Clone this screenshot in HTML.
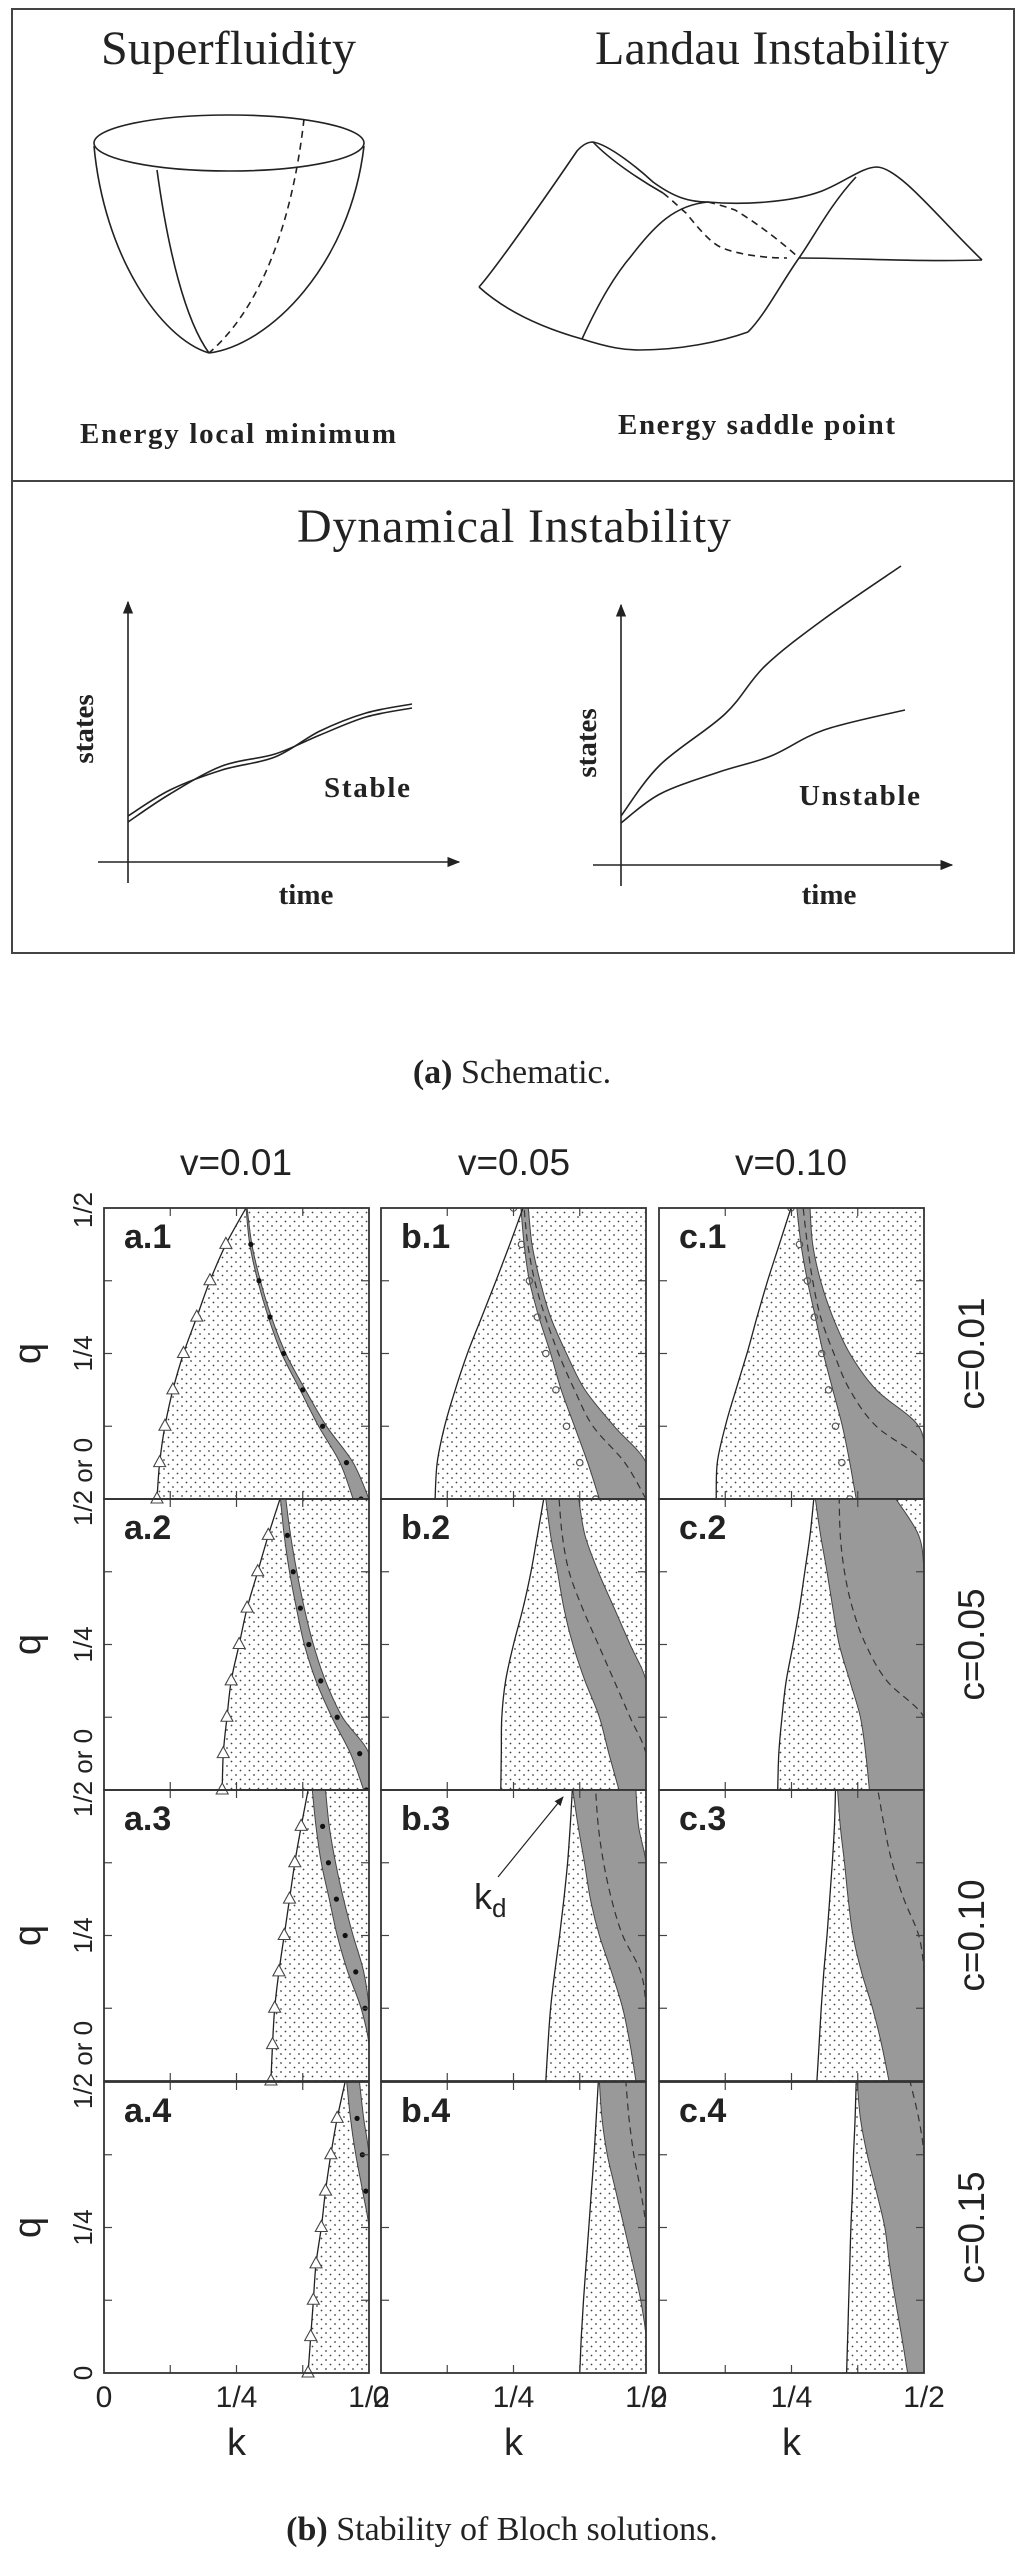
<!DOCTYPE html>
<html><head><meta charset="utf-8"><style>
html,body{margin:0;padding:0;background:#fff;}
svg{display:block;}
.serif{font-family:"Liberation Serif",serif;}
.sans{font-family:"Liberation Sans",sans-serif;}
</style></head><body>
<svg id="fig" width="1024" height="2561" viewBox="0 0 1024 2561" xmlns="http://www.w3.org/2000/svg">
<defs>
<pattern id="dots" width="9" height="9" patternUnits="userSpaceOnUse">
<circle cx="2" cy="2" r="0.9" fill="#444"/><circle cx="6.5" cy="6.5" r="0.9" fill="#444"/>
</pattern>
<marker id="arr" viewBox="0 0 10 10" refX="9" refY="5" markerWidth="8" markerHeight="8" orient="auto"><path d="M0,1 L10,5 L0,9 z" fill="#222"/></marker>
</defs>

<g>
<rect x="12" y="9" width="1002" height="944" fill="none" stroke="#444" stroke-width="2"/>
<line x1="12" y1="481" x2="1014" y2="481" stroke="#444" stroke-width="2"/>
<text class="serif" x="101" y="64" font-size="48" textLength="255" fill="#222">Superfluidity</text>
<text class="serif" x="595" y="64" font-size="48" textLength="354" fill="#222">Landau Instability</text>

<g fill="none" stroke="#222" stroke-width="1.6">
<ellipse cx="229" cy="143" rx="135" ry="28"/>
<path d="M94,146 C104,255 160,338 209,353"/>
<path d="M364,146 C350,265 270,345 209,353"/>
<path d="M157,170 C168,250 185,320 209,353"/>
<path d="M304,119 C295,200 270,300 209,353" stroke-dasharray="7,5"/>
</g>
<g fill="none" stroke="#222" stroke-width="1.6">
<path d="M479,287 C490,275 530,220 577,151 Q585,142 593,142 C610,145 640,170 653,182 C675,198 690,202 708,202 C740,205 790,203 822,191 C845,182 862,167 877,167 C900,168 940,220 982,260"/>
<path d="M982,260 C920,262 850,258 799,258"/>
<path d="M856,177 C830,205 815,235 799,258 C780,285 765,315 748,332"/>
<path d="M479,287 C510,315 550,330 582,339 C610,348 625,350 639,350 C680,350 720,342 748,332"/>
<path d="M582,339 C600,300 615,275 632,255 C655,225 675,205 708,202"/>
<path d="M593,142 C610,160 640,180 663,193"/>
<path d="M663,193 C672,200 680,208 686,213 C700,230 712,245 725,249 C745,256 770,258 787,258" stroke-dasharray="7,5"/>
<path d="M708,202 C720,205 730,208 735,210 C760,225 785,245 799,258" stroke-dasharray="7,5"/>
</g>
<text class="serif" x="80" y="443" font-size="29" font-weight="bold" textLength="316" fill="#222">Energy local minimum</text>
<text class="serif" x="618" y="434" font-size="29" font-weight="bold" textLength="277" fill="#222">Energy saddle point</text>
<text class="serif" x="297" y="542" font-size="48" textLength="434" fill="#222">Dynamical  Instability</text>

<g stroke="#222" stroke-width="1.6" fill="none">
<line x1="128" y1="883" x2="128" y2="602" marker-end="url(#arr)"/>
<line x1="98" y1="862" x2="459" y2="862" marker-end="url(#arr)"/>
<path id="stable1"/>
<path id="stable2"/>
</g>
<text class="serif" font-size="29" font-weight="bold" transform="translate(93,729) rotate(-90)" text-anchor="middle" fill="#222">states</text>
<text class="serif" x="324" y="797" font-size="29" font-weight="bold" textLength="86" fill="#222">Stable</text>
<text class="serif" x="306" y="904" font-size="29" font-weight="bold" text-anchor="middle" fill="#222">time</text>

<g stroke="#222" stroke-width="1.6" fill="none">
<line x1="621" y1="886" x2="621" y2="605" marker-end="url(#arr)"/>
<line x1="593" y1="865" x2="952" y2="865" marker-end="url(#arr)"/>
<path id="unst1"/>
<path id="unst2"/>
</g>
<text class="serif" font-size="29" font-weight="bold" transform="translate(596,743) rotate(-90)" text-anchor="middle" fill="#222">states</text>
<text class="serif" x="799" y="805" font-size="29" font-weight="bold" textLength="121" fill="#222">Unstable</text>
<text class="serif" x="829" y="904" font-size="29" font-weight="bold" text-anchor="middle" fill="#222">time</text>
</g>
<text class="serif" x="512" y="1083" font-size="34" text-anchor="middle" fill="#222"><tspan font-weight="bold">(a)</tspan> Schematic.</text>

<g id="chart"></g>
<text class="sans" x="236" y="1175" font-size="37" text-anchor="middle" fill="#222">v=0.01</text>
<text class="sans" x="514" y="1175" font-size="37" text-anchor="middle" fill="#222">v=0.05</text>
<text class="sans" x="791" y="1175" font-size="37" text-anchor="middle" fill="#222">v=0.10</text>
<text class="serif" x="502" y="2540" font-size="34" text-anchor="middle" fill="#222"><tspan font-weight="bold">(b)</tspan> Stability of Bloch solutions.</text>
</svg>
<script>
const stableA=[[128,816],[170,790],[222,770],[275,757],[320,731],[366,713],[412,704]];
const stableB=[[128,822],[170,794],[222,766],[275,754],[320,735],[366,717],[412,708]];
const unstUpper=[[621,816],[660,765],[725,714],[765,666],[824,619],[901,566]];
const unstLower=[[621,823],[660,794],[719,772],[771,756],[824,730],[905,710]];

const qVals=[0,0.0625,0.125,0.1875,0.25,0.3125,0.375,0.4375,0.5];
const a1Left=[0.10,0.105,0.115,0.13,0.15,0.175,0.20,0.23,0.268];
const a1GrayL=[0.47,0.445,0.405,0.37,0.335,0.31,0.29,0.275,0.268];
const a1GrayR=[0.5,0.47,0.42,0.38,0.343,0.316,0.295,0.279,0.27];
const a2Left=[0.223,0.225,0.232,0.24,0.255,0.27,0.29,0.31,0.332];
const a2GrayL=[0.49,0.465,0.43,0.40,0.378,0.363,0.35,0.34,0.333];
const a2GrayR=[0.5,0.5,0.45,0.418,0.395,0.378,0.364,0.352,0.343];
const a3Left=[0.315,0.318,0.322,0.33,0.34,0.35,0.36,0.372,0.385];
const a3GrayL=[0.5,0.5,0.485,0.46,0.44,0.425,0.41,0.40,0.393];
const a3GrayR=[0.5,0.5,0.5,0.49,0.47,0.452,0.437,0.425,0.418];
const a4Left=[0.385,0.39,0.395,0.40,0.41,0.418,0.428,0.44,0.455];
const a4GrayL=[0.5,0.5,0.5,0.5,0.5,0.488,0.475,0.465,0.458];
const a4GrayR=[0.5,0.5,0.5,0.5,0.5,0.5,0.5,0.49,0.482];
const b1Left=[0.102,0.106,0.12,0.14,0.163,0.19,0.217,0.243,0.268];
const b1GrayL=[0.412,0.39,0.365,0.34,0.32,0.298,0.28,0.27,0.264];
const b1GrayR=[0.5,0.5,0.44,0.385,0.35,0.32,0.30,0.285,0.278];
const b1Dash=[0.5,0.46,0.40,0.365,0.335,0.31,0.29,0.277,0.27];
const b1Circ=[0.405,0.375,0.35,0.33,0.311,0.295,0.28,0.265,0.25];
const c1Left=[0.108,0.11,0.125,0.145,0.166,0.185,0.205,0.227,0.249];
const c1GrayL=[0.372,0.36,0.346,0.328,0.31,0.295,0.28,0.268,0.26];
const c1GrayR=[0.5,0.5,0.49,0.41,0.36,0.328,0.305,0.29,0.285];
const c1Dash=[0.5,0.5,0.41,0.36,0.33,0.305,0.29,0.28,0.272];
const c1Circ=[0.36,0.345,0.333,0.32,0.307,0.293,0.28,0.265,0.249];
const b2Left=[0.226,0.227,0.228,0.235,0.25,0.268,0.283,0.295,0.307];
const b2GrayL=[0.449,0.43,0.412,0.385,0.362,0.345,0.333,0.32,0.311];
const b2GrayR=[0.5,0.5,0.5,0.5,0.47,0.44,0.41,0.385,0.373];
const b2Dash=[0.5,0.5,0.47,0.44,0.41,0.38,0.355,0.342,0.336];
const c2Left=[0.224,0.226,0.232,0.24,0.253,0.265,0.275,0.285,0.292];
const c2GrayL=[0.397,0.39,0.38,0.36,0.34,0.328,0.317,0.305,0.295];
const c2GrayR=[0.5,0.5,0.5,0.5,0.5,0.5,0.5,0.49,0.447];
const c2Dash=[0.5,0.5,0.5,0.43,0.39,0.365,0.35,0.342,0.34];
const b3Left=[0.311,0.315,0.32,0.328,0.337,0.345,0.352,0.357,0.361];
const b3GrayL=[0.481,0.47,0.456,0.435,0.412,0.395,0.384,0.372,0.362];
const b3GrayR=[0.5,0.5,0.5,0.5,0.5,0.5,0.5,0.486,0.481];
const b3Dash=[0.5,0.5,0.5,0.49,0.456,0.435,0.42,0.41,0.405];
const c3Left=[0.298,0.302,0.306,0.311,0.317,0.322,0.327,0.331,0.333];
const c3GrayL=[0.434,0.42,0.403,0.382,0.366,0.357,0.35,0.342,0.337];
const c3GrayR=[0.5,0.5,0.5,0.5,0.5,0.5,0.5,0.5,0.5];
const c3Dash=[0.5,0.5,0.5,0.5,0.49,0.462,0.44,0.425,0.413];
const b4Left=[0.375,0.378,0.382,0.387,0.392,0.397,0.402,0.406,0.41];
const b4GrayL=[0.5,0.5,0.49,0.475,0.459,0.443,0.427,0.417,0.412];
const b4GrayR=[0.5,0.5,0.5,0.5,0.5,0.5,0.5,0.5,0.5];
const b4Dash=[0.5,0.5,0.5,0.5,0.5,0.49,0.477,0.468,0.462];
const c4Left=[0.354,0.356,0.358,0.36,0.362,0.365,0.367,0.37,0.372];
const c4GrayL=[0.469,0.458,0.446,0.435,0.426,0.41,0.393,0.38,0.374];
const c4GrayR=[0.5,0.5,0.5,0.5,0.5,0.5,0.5,0.5,0.5];
const c4Dash=[0.5,0.5,0.5,0.5,0.5,0.5,0.5,0.49,0.474];
const rowLabels=["c=0.01","c=0.05","c=0.10","c=0.15"];
const xTickLabels=["0","1/4","1/2"];
const xTickVals=[0,0.25,0.5];

const NS="http://www.w3.org/2000/svg";
function mk(tag,attrs,parent){const e=document.createElementNS(NS,tag);for(const k in attrs)e.setAttribute(k,attrs[k]);parent.appendChild(e);return e;}
function smooth(pts){let d="M"+pts[0][0].toFixed(1)+","+pts[0][1].toFixed(1);
 for(let i=0;i<pts.length-1;i++){const p0=pts[Math.max(i-1,0)],p1=pts[i],p2=pts[i+1],p3=pts[Math.min(i+2,pts.length-1)];
  d+=" C"+(p1[0]+(p2[0]-p0[0])/6).toFixed(1)+","+(p1[1]+(p2[1]-p0[1])/6).toFixed(1)+" "+(p2[0]-(p3[0]-p1[0])/6).toFixed(1)+","+(p2[1]-(p3[1]-p1[1])/6).toFixed(1)+" "+p2[0].toFixed(1)+","+p2[1].toFixed(1);}
 return d;}
document.getElementById('stable1').setAttribute('d',smooth(stableA));
document.getElementById('stable2').setAttribute('d',smooth(stableB));
document.getElementById('unst1').setAttribute('d',smooth(unstUpper));
document.getElementById('unst2').setAttribute('d',smooth(unstLower));

const colLeft=[104,381,659],rowTop=[1208,1499,1790,2082],PW=265,PH=291;
const panels=[
 {id:"a.1",c:0,r:0,L:a1Left,GL:a1GrayL,GR:a1GrayR,tri:true},
 {id:"b.1",c:1,r:0,L:b1Left,GL:b1GrayL,GR:b1GrayR,D:b1Dash,O:b1Circ},
 {id:"c.1",c:2,r:0,L:c1Left,GL:c1GrayL,GR:c1GrayR,D:c1Dash,O:c1Circ},
 {id:"a.2",c:0,r:1,L:a2Left,GL:a2GrayL,GR:a2GrayR,tri:true},
 {id:"b.2",c:1,r:1,L:b2Left,GL:b2GrayL,GR:b2GrayR,D:b2Dash},
 {id:"c.2",c:2,r:1,L:c2Left,GL:c2GrayL,GR:c2GrayR,D:c2Dash},
 {id:"a.3",c:0,r:2,L:a3Left,GL:a3GrayL,GR:a3GrayR,tri:true},
 {id:"b.3",c:1,r:2,L:b3Left,GL:b3GrayL,GR:b3GrayR,D:b3Dash},
 {id:"c.3",c:2,r:2,L:c3Left,GL:c3GrayL,GR:c3GrayR,D:c3Dash},
 {id:"a.4",c:0,r:3,L:a4Left,GL:a4GrayL,GR:a4GrayR,tri:true},
 {id:"b.4",c:1,r:3,L:b4Left,GL:b4GrayL,GR:b4GrayR,D:b4Dash},
 {id:"c.4",c:2,r:3,L:c4Left,GL:c4GrayL,GR:c4GrayR,D:c4Dash}];
const chart=document.getElementById('chart');
panels.forEach(p=>{
 const x0=colLeft[p.c],y0=rowTop[p.r];
 const X=k=>x0+k/0.5*PW, Y=q=>y0+PH-q/0.5*PH;
 const g=mk('g',{},chart);
 
 
 const cid='clip'+p.c+p.r;
 const cp=mk('clipPath',{id:cid},g);mk('rect',{x:x0,y:y0,width:PW,height:PH},cp);
 const inner=mk('g',{'clip-path':'url(#'+cid+')'},g);
 const leftPts=qVals.map((q,i)=>[X(p.L[i]),Y(q)]);
 let d=smooth(leftPts)+" L"+X(0.5)+","+Y(0.5)+" L"+X(0.5)+","+Y(0)+" Z";
 const dot=mk('path',{d:d,fill:'url(#dots)',stroke:'none'},inner);
 
 
 const gl=qVals.map((q,i)=>[X(p.GL[i]),Y(q)]);
 const gr=qVals.map((q,i)=>[X(p.GR[i]),Y(q)]).reverse();
 const band=mk('path',{d:smooth(gl)+" L"+smooth(gr).slice(1)+" Z",fill:'#999',stroke:'#444','stroke-width':1},inner);
 
 
 const lc=mk('path',{d:smooth(leftPts),fill:'none',stroke:'#222','stroke-width':1.3},inner);
 
 
 if(p.D){const dl=mk('path',{d:smooth(qVals.map((q,i)=>[X(p.D[i]),Y(q)])),fill:'none',stroke:'#333','stroke-width':1.2,'stroke-dasharray':'7,5'},inner);
  
  }
 if(p.O){qVals.forEach((q,i)=>{const c=mk('circle',{cx:X(p.O[i]),cy:Y(q),r:3.2,fill:'none',stroke:'#555','stroke-width':1.2},inner);
  
  });}
 if(p.tri){qVals.forEach((q,i)=>{if(i===qVals.length-1)return;const tx=X(p.L[i]),ty=Y(q);
  const t=mk('path',{d:"M"+tx+","+(ty-7)+" L"+(tx+6)+","+(ty+4)+" L"+(tx-6)+","+(ty+4)+" Z",fill:'#fff',stroke:'#444','stroke-width':1.1},g);
  
  
  const m=(p.GL[i]+p.GR[i])/2;if(m<0.5){const dd=mk('circle',{cx:X(m),cy:ty,r:2.6,fill:'#111'},inner);
  
  }});}
 [0.125,0.25,0.375].forEach(v=>{
  mk('line',{x1:X(v),y1:y0,x2:X(v),y2:y0+8,stroke:'#444','stroke-width':1.2},g);
  mk('line',{x1:X(v),y1:y0+PH,x2:X(v),y2:y0+PH-8,stroke:'#444','stroke-width':1.2},g);
  mk('line',{x1:x0,y1:Y(v),x2:x0+8,y2:Y(v),stroke:'#444','stroke-width':1.2},g);
  mk('line',{x1:x0+PW,y1:Y(v),x2:x0+PW-8,y2:Y(v),stroke:'#444','stroke-width':1.2},g);});
 const fr=mk('rect',{x:x0,y:y0,width:PW,height:PH,fill:'none',stroke:'#333','stroke-width':1.8},g);
 
 
 const lb=mk('text',{x:x0+20,y:y0+40,'font-size':34,'font-weight':'bold',fill:'#222','font-family':'Liberation Sans, sans-serif'},g);
 lb.textContent=p.id;
 
 
});
rowTop.forEach((yt,r)=>{
 const top=mk('text',{transform:'translate(92,'+(r===0?yt+2:yt-17)+') rotate(-90)','text-anchor':'middle','font-size':26,fill:'#222','font-family':'Liberation Sans, sans-serif'},chart);
 top.textContent=r===0?"1/2":"1/2 or 0";
 
 
 const mid=mk('text',{transform:'translate(92,'+(yt+PH/2)+') rotate(-90)','text-anchor':'middle','font-size':26,fill:'#222','font-family':'Liberation Sans, sans-serif'},chart);
 mid.textContent="1/4";
 
 
 const ql=mk('text',{transform:'translate(40,'+(yt+PH/2)+') rotate(-90)','text-anchor':'middle','font-size':38,fill:'#222','font-family':'Liberation Sans, sans-serif'},chart);
 ql.textContent="q";
 
 
 const rl=mk('text',{transform:'translate(984,'+(yt+PH/2)+') rotate(-90)','text-anchor':'middle','font-size':37,fill:'#222','font-family':'Liberation Sans, sans-serif'},chart);
 rl.textContent=rowLabels[r];
 
 
});
const z=mk('text',{transform:'translate(92,2373) rotate(-90)','text-anchor':'middle','font-size':26,fill:'#222','font-family':'Liberation Sans, sans-serif'},chart);
z.textContent="0";


colLeft.forEach(x0=>{
 xTickVals.forEach((v,i)=>{const t=mk('text',{x:x0+v/0.5*PW,y:2407,'text-anchor':'middle','font-size':30,fill:'#222','font-family':'Liberation Sans, sans-serif'},chart);
  t.textContent=xTickLabels[i];
  
  });
 const k=mk('text',{x:x0+PW/2,y:2455,'text-anchor':'middle','font-size':38,fill:'#222','font-family':'Liberation Sans, sans-serif'},chart);
 k.textContent="k";
 
 
});
const ar=mk('line',{x1:498,y1:1877,x2:563,y2:1797,stroke:'#222','stroke-width':1.2,'marker-end':'url(#arr)'},chart);


const kd=mk('text',{x:474,y:1909,'font-size':36,fill:'#222','font-family':'Liberation Sans, sans-serif'},chart);
kd.innerHTML='k<tspan font-size="26" dy="8">d</tspan>';


</script>
</body></html>
